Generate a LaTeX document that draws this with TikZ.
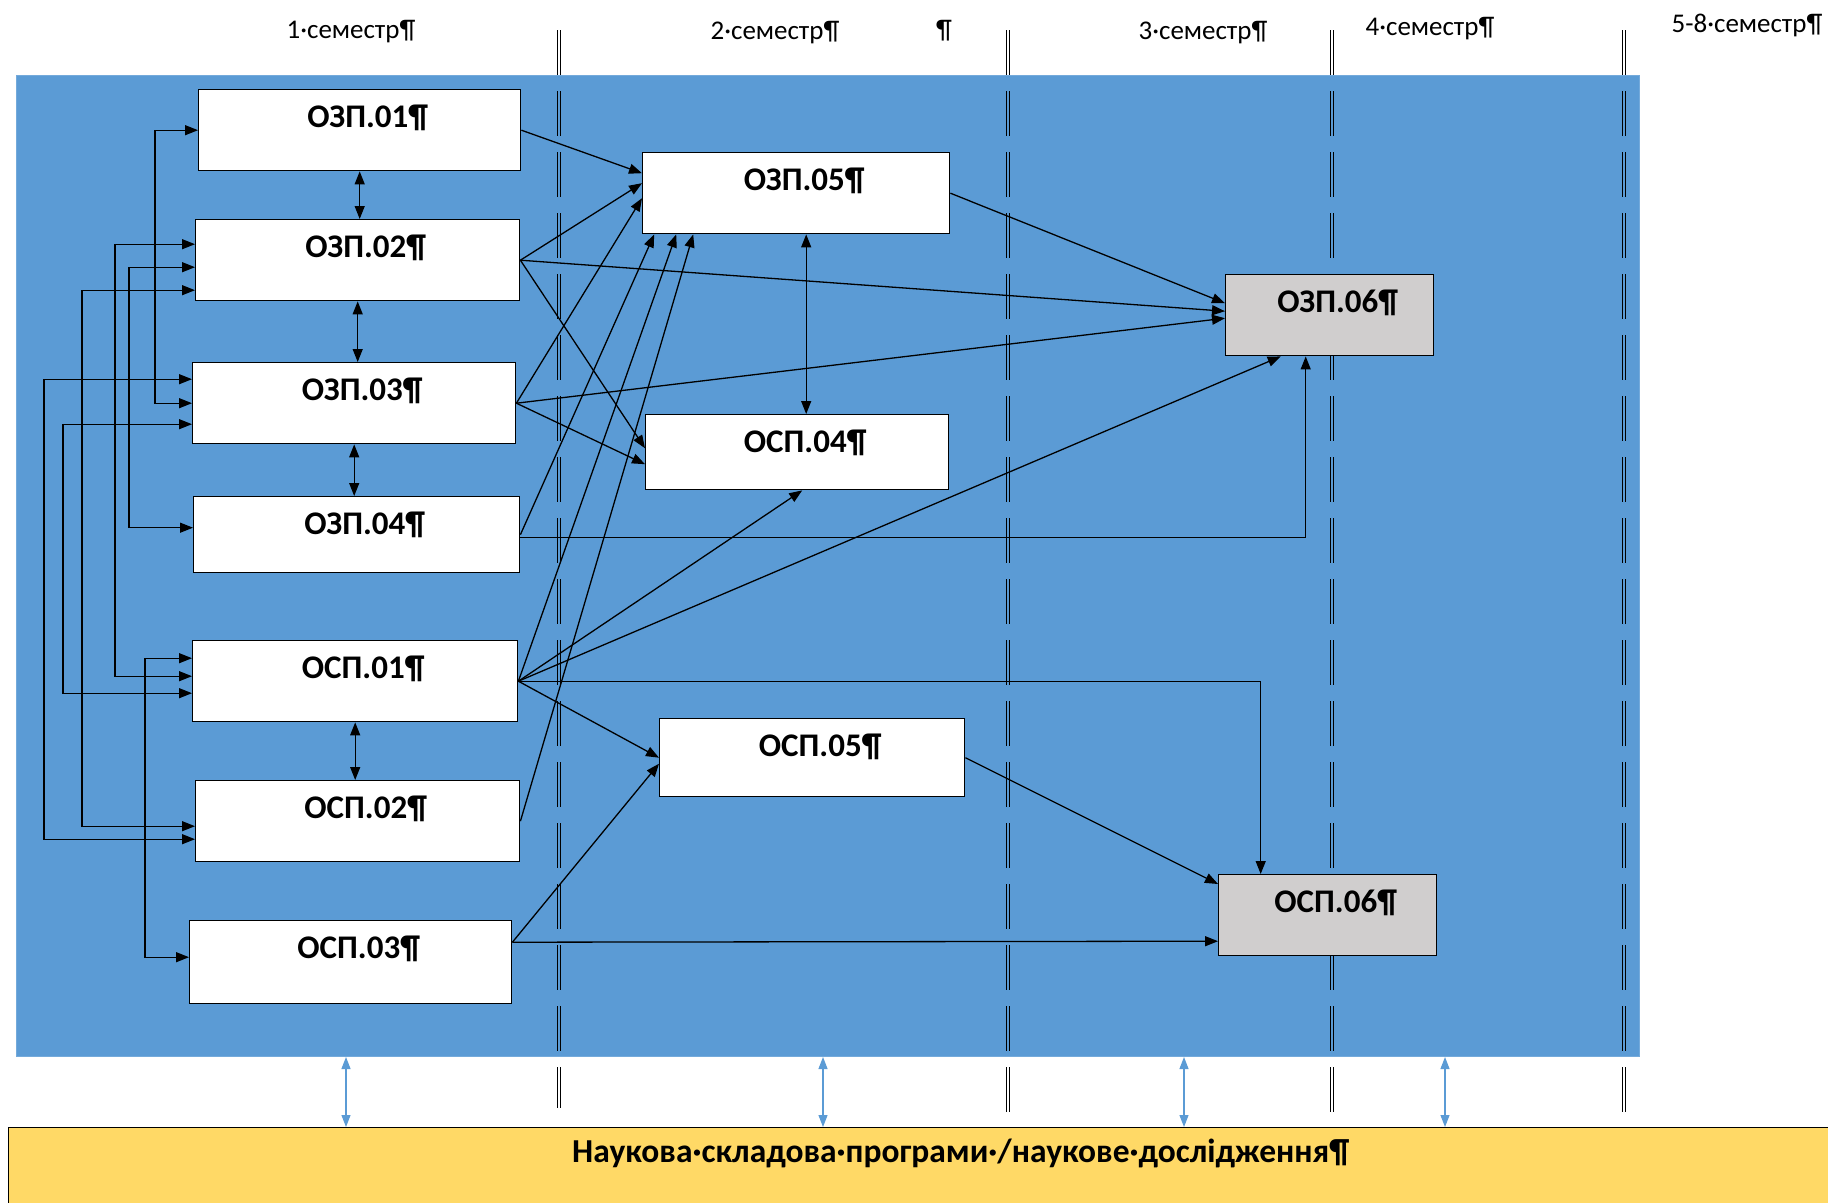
\documentclass[tikz,border=0pt]{standalone}
\usepackage{fontspec}
\setmainfont{Carlito}
\usetikzlibrary{arrows.meta}
\definecolor{coreblue}{RGB}{91,155,213}
\definecolor{sciyellow}{RGB}{255,217,102}
\definecolor{boxgray}{RGB}{208,206,206}
\tikzset{box/.style={draw,line width=1.4pt,fill=white,anchor=north west,inner sep=0pt,
    minimum width=#1,text height=38pt,text depth=43pt,font=\fontsize{33}{38}\selectfont\bfseries},
  finalbox/.style={box=#1,fill=boxgray},
  sem/.style={anchor=base,font=\fontsize{27}{32}\selectfont},
  link/.style={->,line width=1.3pt},
  biLink/.style={<->,line width=1.3pt},
  sci/.style={<->,draw=coreblue,line width=1.1pt,>={Triangle[length=12pt,width=9pt]}}}
\newcommand{\lbl}[1]{\hspace*{16pt}#1}

\begin{document}
\begin{tikzpicture}[x=1pt,y=-1pt,>={Triangle[length=13pt,width=10pt]}]
	\useasboundingbox (0,0) rectangle (1828,1202);

	\node[fill=coreblue,draw=coreblue!85!white,line width=1pt,anchor=north west,inner sep=0pt,
	minimum width=1623pt,minimum height=981pt] (core) at (16,75) {};
	\node[fill=sciyellow,draw=black,line width=1.4pt,anchor=north west,inner sep=0pt,
	minimum width=1904pt,text height=35pt,text depth=60pt,
	font=\fontsize{33.5}{38}\selectfont\bfseries] (research) at (8,1127)
	{Наукова·складова·програми·/наукове·дослідження¶};

	\node[sem] (sem1) at (351,38) {1·семестр¶};
	\node[sem] (sem2) at (775,39) {2·семестр¶};
	\node[sem] (pilcrow) at (944,38) {¶};
	\node[sem] (sem3) at (1203,39) {3·семестр¶};
	\node[sem] (sem4) at (1430,35) {4·семестр¶};
	\node[sem] (sem58) at (1747,32) {5-8·семестр¶};

	% semester borders
	\foreach \x/\yend in {559/1108,1008/1127,1332/1127,1624/1127}
	\foreach \dx in {-1.8,1.8}
	\draw[line width=0.9pt,dash pattern=on 45pt off 16pt]
	([xshift=\dx pt]\x,30) -- ([xshift=\dx pt]\x,\yend);

	\node[box=322] (ozp01) at (198,89) {\lbl{ОЗП.01¶}};
	\node[box=324] (ozp02) at (195,219) {\lbl{ОЗП.02¶}};
	\node[box=323] (ozp03) at (192,362) {\lbl{ОЗП.03¶}};
	\node[box=326,text depth=38pt] (ozp04) at (193,496) {\lbl{ОЗП.04¶}};
	\node[box=325] (osp01) at (192,640) {\lbl{ОСП.01¶}};
	\node[box=324] (osp02) at (195,780) {\lbl{ОСП.02¶}};
	\node[box=322,text depth=45pt] (osp03) at (189,920) {\lbl{ОСП.03¶}};
	\node[box=307] (ozp05) at (642,152) {\lbl{ОЗП.05¶}};
	\node[box=303,text depth=37pt] (osp04) at (645,414) {\lbl{ОСП.04¶}};
	\node[box=305,text depth=40pt] (osp05) at (659,718) {\lbl{ОСП.05¶}};
	\node[finalbox=208] (ozp06) at (1225,274) {\lbl{ОЗП.06¶}};
	\node[finalbox=218] (osp06) at (1218,874) {\lbl{ОСП.06¶}};

	% links on the left
	\draw[biLink] (ozp01.west) -- ++(-43,0) |- (ozp03.west);
	\draw[biLink] ([yshift=16pt]ozp02.west) -- ++(-80,0) |- ([yshift=5pt]osp01.west);
	\draw[biLink] ([yshift=-7pt]ozp02.west) -- ++(-66,0) |- ([yshift=7pt]ozp04.west);
	\draw[biLink] ([yshift=-30pt]ozp02.west) -- ++(-113,0) |- ([yshift=-5pt]osp02.west);
	\draw[biLink] ([yshift=24pt]ozp03.west) -- ++(-148,0) |- ([yshift=-18pt]osp02.west);
	\draw[biLink] ([yshift=-21pt]ozp03.west) -- ++(-129,0) |- ([yshift=-12pt]osp01.west);
	\draw[biLink] ([yshift=23pt]osp01.west) -- ++(-47,0) |- ([yshift=5pt]osp03.west);

	\draw[biLink] (ozp01.south) -- (ozp01.south |- ozp02.north);
	\draw[biLink] (ozp02.south) -- (ozp02.south |- ozp03.north);
	\draw[biLink] (ozp03.south) -- (ozp03.south |- ozp04.north);
	\draw[biLink] (osp01.south) -- (osp01.south |- osp02.north);
	\draw[biLink] ([xshift=10pt]ozp05.south) -- ([xshift=10pt]ozp05.south |- osp04.north);

	\draw[link] (ozp01.east) -- ([yshift=20pt]ozp05.west);
	\draw[link] (ozp02.east) -- ([yshift=10pt]ozp05.west);
	\draw[link] (ozp02.east) -- ([yshift=4pt]ozp06.west);
	\draw[link] (ozp02.east) -- ([yshift=4pt]osp04.west);
	\draw[link] (ozp03.east) -- ([yshift=-5pt]ozp05.west);
	\draw[link] (ozp03.east) -- ([yshift=-3pt]ozp06.west);
	\draw[link] (ozp03.east) -- ([yshift=-12pt]osp04.west);
	\draw[link] (ozp04.east) -- ([xshift=-142pt]ozp05.south);
	\draw[link] ([yshift=-3pt]ozp04.east) -| ([xshift=-24pt]ozp06.south);
	\draw[link] (osp01.east) -- ([xshift=-120pt]ozp05.south);
	\draw[link] (osp02.east) -- ([xshift=-103pt]ozp05.south);
	\draw[link] (osp01.east) -- ([xshift=5pt]osp04.south);
	\draw[link] (osp01.east) -- ([xshift=-49pt]ozp06.south);
	\draw[link] (osp01.east) -| ([xshift=-67pt]osp06.north);
	\draw[link] (osp01.east) -- (osp05.west);
	\draw[link] ([yshift=20pt]osp03.east) -- ([yshift=-6pt]osp05.west);
	\draw[link] ([yshift=20pt]osp03.east) -- ([yshift=-26pt]osp06.west);
	\draw[link] (osp05.east) -- ([yshift=-10pt]osp06.north west);
	\draw[link] (ozp05.east) -- ([yshift=12pt]ozp06.west);

	% research component
	\foreach \x in {346,823,1184,1445}
	\draw[sci] (core.south -| \x,0) -- (research.north -| \x,0);
\end{tikzpicture}
\end{document}
